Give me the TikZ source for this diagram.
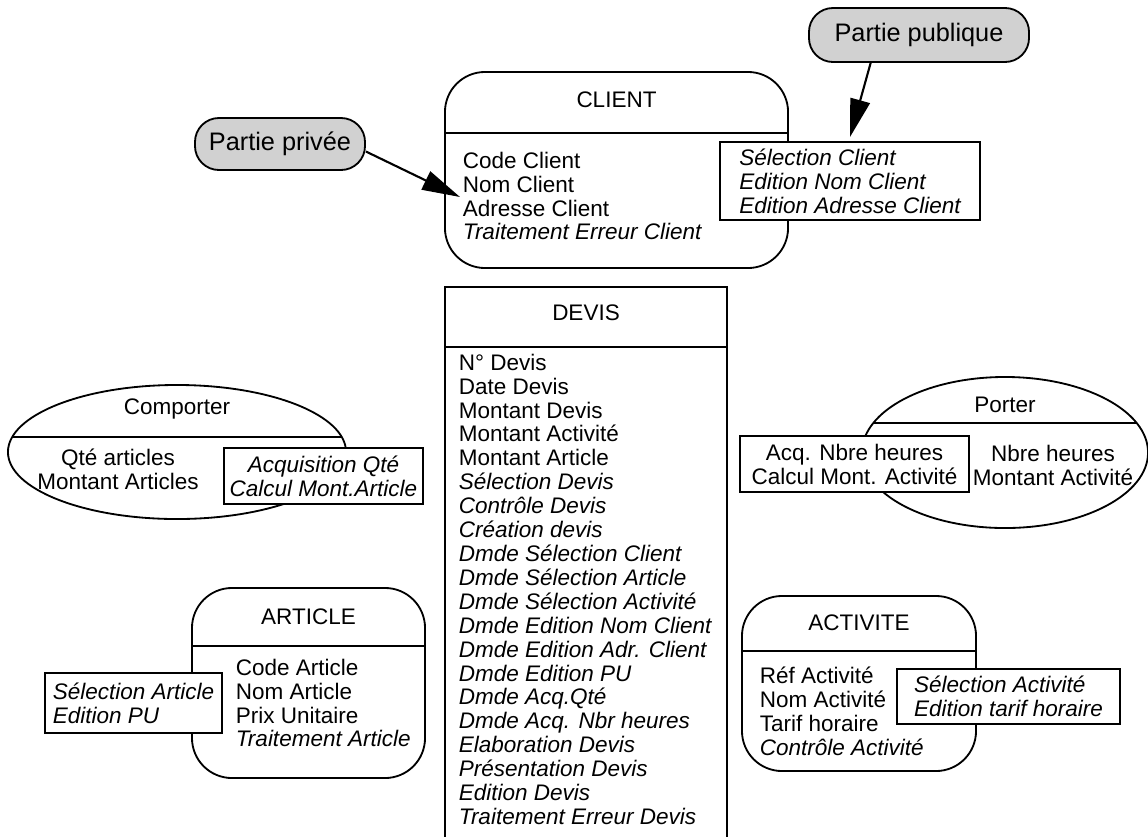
\documentclass[tikz,border=0pt]{standalone}
\usepackage{fontspec}
\setmainfont{Liberation Sans}
\usepackage{tikz}
\usetikzlibrary{arrows.meta,shapes,calc}
\newcommand\boxfont{\fontsize{16}{17}\selectfont}
\newcommand\tagfont{\fontsize{18}{20}\selectfont}

\begin{document}
\begin{tikzpicture}[x=0.025cm, y=-0.025cm, line width=1.3pt, font=\boxfont,
  ent/.style={rectangle, draw, rounded corners=1cm, inner sep=0pt, outer sep=0pt},
  tbl/.style={rectangle, draw, inner sep=0pt, outer sep=0pt},
  rel/.style={ellipse, draw, inner sep=0pt, outer sep=0pt},
  ops/.style={rectangle, draw, fill=white, inner sep=0pt, align=#1, font=\boxfont\itshape},
  vals/.style={rectangle, draw, fill=white, inner sep=0pt, align=center},
  ttl/.style={inner sep=0pt},
  attr/.style={inner sep=0pt, anchor=north west, align=left},
  tagbox/.style={rectangle, draw, rounded corners=0.6cm, fill=black!18, inner sep=0pt,
                 minimum height=1.3cm, font=\tagfont},
  arr/.style={-{Triangle[length=0.95cm, width=0.5cm]}, line width=1.5pt}
]
\useasboundingbox (0,0) rectangle (1148,836);

\node[tagbox, minimum width=4.25cm] (privee) at (280,144) {Partie privée};
\node[tagbox, minimum width=5.5cm, minimum height=1.35cm] (publique) at (919,35) {Partie publique};

\node[ent, minimum width=8.575cm, minimum height=4.9cm] (client) at (616.5,170) {};
\draw ($(client.north west)+(0,61)$) -- ($(client.north east)+(0,61)$);
\node[ttl] (clientttl) at ($(client.north)+(0,28)$) {CLIENT};
\node[attr] (clientattr) at (462,151) {Code Client\\Nom Client\\Adresse Client\\\textit{Traitement Erreur Client}};
\node[ops=left, minimum width=6.5cm, minimum height=1.95cm] (clientops) at (850,181)
  {Sélection Client\\Edition Nom Client\\Edition Adresse Client};

\coordinate (privtip) at (460,197);
\coordinate (pubtip) at (850,137);
\draw[arr] (privee.-5) -- (privtip);
\draw[arr] (publique.210) -- (pubtip);

\node[tbl, minimum width=7.05cm, minimum height=14.075cm] (devis) at (586,568.5) {};
\draw ($(devis.north west)+(0,60)$) -- ($(devis.north east)+(0,60)$);
\node[ttl] (devisttl) at ($(devis.north)+(0,26)$) {DEVIS};
\node[attr] (devisattr) at (458,353) {N° Devis\\Date Devis\\Montant Devis\\Montant Activité\\Montant Article\\
  \textit{Sélection Devis}\\\textit{Contrôle Devis}\\\textit{Création devis}\\
  \textit{Dmde Sélection Client}\\\textit{Dmde Sélection Article}\\\textit{Dmde Sélection Activité}\\
  \textit{Dmde Edition Nom Client}\\\textit{Dmde Edition Adr. Client}\\\textit{Dmde Edition PU}\\
  \textit{Dmde Acq.Qté}\\\textit{Dmde Acq. Nbr heures}\\\textit{Elaboration Devis}\\
  \textit{Présentation Devis}\\\textit{Edition Devis}\\\textit{Traitement Erreur Devis}};

\node[rel, minimum width=8.45cm, minimum height=3.35cm] (comporter) at (177,452) {};
\draw ($(comporter.center)+(-164.7,-15)$) -- ($(comporter.center)+(164.7,-15)$);
\node[ttl] (comporterttl) at ($(comporter.north)+(0,24)$) {Comporter};
\node[attr, anchor=north, align=center] (comporterattr) at (118,448) {Qté articles\\Montant Articles};
\node[ops=center, minimum width=4.975cm, minimum height=1.4cm] (comporterops) at (323.5,476)
  {Acquisition Qté\\Calcul Mont.Article};

\node[rel, minimum width=7.15cm, minimum height=3.775cm] (porter) at (1005,452.5) {};
\draw ($(porter.center)+(-131.6,-29.5)$) -- ($(porter.center)+(131.6,-29.5)$);
\node[ttl] (porterttl) at ($(porter.north)+(0,28)$) {Porter};
\node[attr, anchor=north, align=center] (porterattr) at (1053,444) {Nbre heures\\Montant Activité};
\node[vals, minimum width=5.725cm, minimum height=1.4cm] (porterops) at (854.5,464)
  {Acq. Nbre heures\\Calcul Mont. Activité};

\node[ent, minimum width=5.825cm, minimum height=4.75cm] (article) at (308.5,683) {};
\draw ($(article.north west)+(0,58)$) -- ($(article.north east)+(0,58)$);
\node[ttl] (articlettl) at ($(article.north)+(0,29)$) {ARTICLE};
\node[attr] (articleattr) at (235,658) {Code Article\\Nom Article\\Prix Unitaire\\\textit{Traitement Article}};
\node[ops=left, minimum width=4.425cm, minimum height=1.5cm] (articleops) at (133.5,703)
  {Sélection Article\\Edition PU};

\node[ent, minimum width=5.85cm, minimum height=4.375cm] (activite) at (859,683.5) {};
\draw ($(activite.north west)+(0,55)$) -- ($(activite.north east)+(0,55)$);
\node[ttl] (activitettl) at ($(activite.north)+(0,27)$) {ACTIVITE};
\node[attr] (activiteattr) at (759,666) {Réf Activité\\Nom Activité\\Tarif horaire\\\textit{Contrôle Activité}};
\node[ops=left, minimum width=5.575cm, minimum height=1.375cm] (activiteops) at (1008.5,696.5)
  {Sélection Activité\\Edition tarif horaire};

\end{tikzpicture}
\end{document}
